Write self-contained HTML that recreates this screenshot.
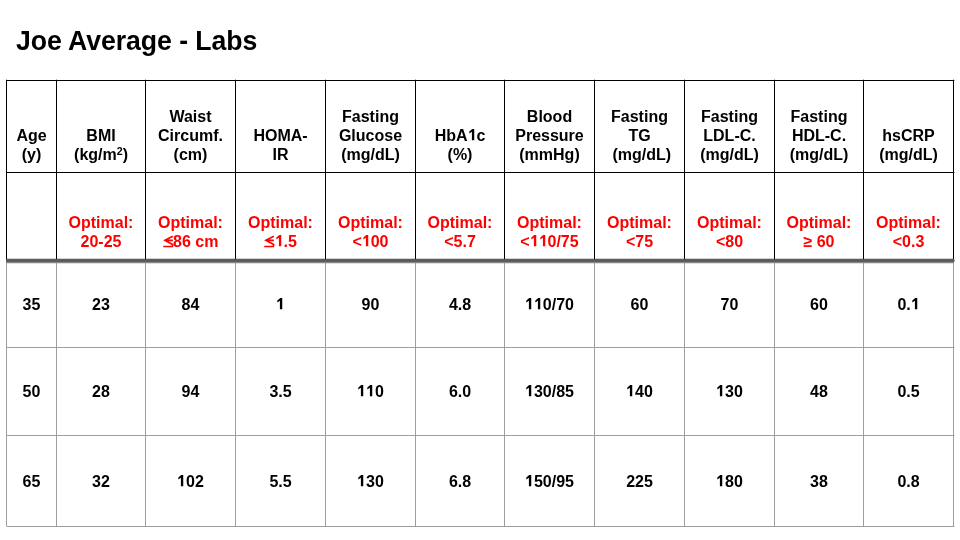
<!DOCTYPE html><html><head><meta charset="utf-8"><style>
html,body{margin:0;padding:0;background:#fff;}
body{width:960px;height:540px;position:relative;overflow:hidden;font-family:"Liberation Sans",sans-serif;font-weight:bold;}
.t{position:absolute;left:15.8px;top:27.6px;font-size:26.67px;line-height:1;white-space:nowrap;color:#000;transform:scaleY(1.055);transform-origin:0 80%;will-change:transform;letter-spacing:-0.07px;}
.l{position:absolute;}
.c{position:absolute;will-change:transform;display:flex;flex-direction:column;align-items:center;font-size:16px;line-height:19px;text-align:center;white-space:nowrap;color:#000;}
.h{justify-content:flex-end;}
.o{justify-content:flex-end;color:#f00;}
.d{justify-content:center;}

svg.one{vertical-align:0.8px;overflow:visible;}
svg.le{overflow:visible;vertical-align:baseline;}
sup{font-size:10.6px;line-height:0;position:relative;top:-5.2px;vertical-align:baseline;}
</style></head><body>
<div class="t">Joe Average - Labs</div>
<div class="c h" style="left:7px;top:81px;width:49px;height:91px;padding-bottom:8px;box-sizing:border-box"><div>Age</div><div>(y)</div></div>
<div class="c d" style="left:7px;top:262px;width:49px;height:85px;"><div>35</div></div>
<div class="c d" style="left:7px;top:348px;width:49px;height:87px;"><div>50</div></div>
<div class="c d" style="left:7px;top:437px;width:49px;height:89px;"><div>65</div></div>
<div class="c h" style="left:57px;top:81px;width:88px;height:91px;padding-bottom:8px;box-sizing:border-box"><div>BMI</div><div>(kg/m<sup>2</sup>)</div></div>
<div class="c o" style="left:57px;top:173px;width:88px;height:86px;padding-bottom:8px;box-sizing:border-box"><div>Optimal:</div><div>20-25</div></div>
<div class="c d" style="left:57px;top:262px;width:88px;height:85px;"><div>23</div></div>
<div class="c d" style="left:57px;top:348px;width:88px;height:87px;"><div>28</div></div>
<div class="c d" style="left:57px;top:437px;width:88px;height:89px;"><div>32</div></div>
<div class="c h" style="left:146px;top:81px;width:89px;height:91px;padding-bottom:8px;box-sizing:border-box"><div>Waist</div><div>Circumf.</div><div>(cm)</div></div>
<div class="c o" style="left:146px;top:173px;width:89px;height:86px;padding-bottom:8px;box-sizing:border-box"><div>Optimal:</div><div><svg class="le" width="10.6" height="12" viewBox="0 -12 10.6 12"><path d="M9.8 -10.8 L1.9 -6.7 L9.6 -2.5 L9.6 -0.5 M1.9 -6.7 H9.9 M0.2 -0.5 H9.9" fill="none" stroke="#f00" stroke-width="1.7"/></svg>86 cm</div></div>
<div class="c d" style="left:146px;top:262px;width:89px;height:85px;"><div>84</div></div>
<div class="c d" style="left:146px;top:348px;width:89px;height:87px;"><div>94</div></div>
<div class="c d" style="left:146px;top:437px;width:89px;height:89px;"><div><svg class="one" width="8.898" height="11.3" viewBox="0 -1409 1139 1409" preserveAspectRatio="none"><path d="M500 0V-1060L170 -840V-1100L540 -1409H800V0Z" fill="currentColor"/></svg>02</div></div>
<div class="c h" style="left:236px;top:81px;width:89px;height:91px;padding-bottom:8px;box-sizing:border-box"><div>HOMA-</div><div>IR</div></div>
<div class="c o" style="left:236px;top:173px;width:89px;height:86px;padding-bottom:8px;box-sizing:border-box"><div>Optimal:</div><div><svg class="le" width="10.6" height="12" viewBox="0 -12 10.6 12"><path d="M9.8 -10.8 L1.9 -6.7 L9.6 -2.5 L9.6 -0.5 M1.9 -6.7 H9.9 M0.2 -0.5 H9.9" fill="none" stroke="#f00" stroke-width="1.7"/></svg><svg class="one" width="8.898" height="11.3" viewBox="0 -1409 1139 1409" preserveAspectRatio="none"><path d="M500 0V-1060L170 -840V-1100L540 -1409H800V0Z" fill="currentColor"/></svg>.5</div></div>
<div class="c d" style="left:236px;top:262px;width:89px;height:85px;"><div><svg class="one" width="8.898" height="11.3" viewBox="0 -1409 1139 1409" preserveAspectRatio="none"><path d="M500 0V-1060L170 -840V-1100L540 -1409H800V0Z" fill="currentColor"/></svg></div></div>
<div class="c d" style="left:236px;top:348px;width:89px;height:87px;"><div>3.5</div></div>
<div class="c d" style="left:236px;top:437px;width:89px;height:89px;"><div>5.5</div></div>
<div class="c h" style="left:326px;top:81px;width:89px;height:91px;padding-bottom:8px;box-sizing:border-box"><div>Fasting</div><div>Glucose</div><div>(mg/dL)</div></div>
<div class="c o" style="left:326px;top:173px;width:89px;height:86px;padding-bottom:8px;box-sizing:border-box"><div>Optimal:</div><div>&lt;<svg class="one" width="8.898" height="11.3" viewBox="0 -1409 1139 1409" preserveAspectRatio="none"><path d="M500 0V-1060L170 -840V-1100L540 -1409H800V0Z" fill="currentColor"/></svg>00</div></div>
<div class="c d" style="left:326px;top:262px;width:89px;height:85px;"><div>90</div></div>
<div class="c d" style="left:326px;top:348px;width:89px;height:87px;"><div><svg class="one" width="8.898" height="11.3" viewBox="0 -1409 1139 1409" preserveAspectRatio="none"><path d="M500 0V-1060L170 -840V-1100L540 -1409H800V0Z" fill="currentColor"/></svg><svg class="one" width="8.898" height="11.3" viewBox="0 -1409 1139 1409" preserveAspectRatio="none"><path d="M500 0V-1060L170 -840V-1100L540 -1409H800V0Z" fill="currentColor"/></svg>0</div></div>
<div class="c d" style="left:326px;top:437px;width:89px;height:89px;"><div><svg class="one" width="8.898" height="11.3" viewBox="0 -1409 1139 1409" preserveAspectRatio="none"><path d="M500 0V-1060L170 -840V-1100L540 -1409H800V0Z" fill="currentColor"/></svg>30</div></div>
<div class="c h" style="left:416px;top:81px;width:88px;height:91px;padding-bottom:8px;box-sizing:border-box"><div>HbA<svg class="one" width="8.898" height="11.3" viewBox="0 -1409 1139 1409" preserveAspectRatio="none"><path d="M500 0V-1060L170 -840V-1100L540 -1409H800V0Z" fill="currentColor"/></svg>c</div><div>(%)</div></div>
<div class="c o" style="left:416px;top:173px;width:88px;height:86px;padding-bottom:8px;box-sizing:border-box"><div>Optimal:</div><div>&lt;5.7</div></div>
<div class="c d" style="left:416px;top:262px;width:88px;height:85px;"><div>4.8</div></div>
<div class="c d" style="left:416px;top:348px;width:88px;height:87px;"><div>6.0</div></div>
<div class="c d" style="left:416px;top:437px;width:88px;height:89px;"><div>6.8</div></div>
<div class="c h" style="left:505px;top:81px;width:89px;height:91px;padding-bottom:8px;box-sizing:border-box"><div>Blood</div><div>Pressure</div><div>(mmHg)</div></div>
<div class="c o" style="left:505px;top:173px;width:89px;height:86px;padding-bottom:8px;box-sizing:border-box"><div>Optimal:</div><div>&lt;<svg class="one" width="8.898" height="11.3" viewBox="0 -1409 1139 1409" preserveAspectRatio="none"><path d="M500 0V-1060L170 -840V-1100L540 -1409H800V0Z" fill="currentColor"/></svg><svg class="one" width="8.898" height="11.3" viewBox="0 -1409 1139 1409" preserveAspectRatio="none"><path d="M500 0V-1060L170 -840V-1100L540 -1409H800V0Z" fill="currentColor"/></svg>0/75</div></div>
<div class="c d" style="left:505px;top:262px;width:89px;height:85px;"><div><svg class="one" width="8.898" height="11.3" viewBox="0 -1409 1139 1409" preserveAspectRatio="none"><path d="M500 0V-1060L170 -840V-1100L540 -1409H800V0Z" fill="currentColor"/></svg><svg class="one" width="8.898" height="11.3" viewBox="0 -1409 1139 1409" preserveAspectRatio="none"><path d="M500 0V-1060L170 -840V-1100L540 -1409H800V0Z" fill="currentColor"/></svg>0/70</div></div>
<div class="c d" style="left:505px;top:348px;width:89px;height:87px;"><div><svg class="one" width="8.898" height="11.3" viewBox="0 -1409 1139 1409" preserveAspectRatio="none"><path d="M500 0V-1060L170 -840V-1100L540 -1409H800V0Z" fill="currentColor"/></svg>30/85</div></div>
<div class="c d" style="left:505px;top:437px;width:89px;height:89px;"><div><svg class="one" width="8.898" height="11.3" viewBox="0 -1409 1139 1409" preserveAspectRatio="none"><path d="M500 0V-1060L170 -840V-1100L540 -1409H800V0Z" fill="currentColor"/></svg>50/95</div></div>
<div class="c h" style="left:595px;top:81px;width:89px;height:91px;padding-bottom:8px;box-sizing:border-box"><div>Fasting</div><div>TG</div><div>&nbsp;(mg/dL)</div></div>
<div class="c o" style="left:595px;top:173px;width:89px;height:86px;padding-bottom:8px;box-sizing:border-box"><div>Optimal:</div><div>&lt;75</div></div>
<div class="c d" style="left:595px;top:262px;width:89px;height:85px;"><div>60</div></div>
<div class="c d" style="left:595px;top:348px;width:89px;height:87px;"><div><svg class="one" width="8.898" height="11.3" viewBox="0 -1409 1139 1409" preserveAspectRatio="none"><path d="M500 0V-1060L170 -840V-1100L540 -1409H800V0Z" fill="currentColor"/></svg>40</div></div>
<div class="c d" style="left:595px;top:437px;width:89px;height:89px;"><div>225</div></div>
<div class="c h" style="left:685px;top:81px;width:89px;height:91px;padding-bottom:8px;box-sizing:border-box"><div>Fasting</div><div>LDL-C.</div><div>(mg/dL)</div></div>
<div class="c o" style="left:685px;top:173px;width:89px;height:86px;padding-bottom:8px;box-sizing:border-box"><div>Optimal:</div><div>&lt;80</div></div>
<div class="c d" style="left:685px;top:262px;width:89px;height:85px;"><div>70</div></div>
<div class="c d" style="left:685px;top:348px;width:89px;height:87px;"><div><svg class="one" width="8.898" height="11.3" viewBox="0 -1409 1139 1409" preserveAspectRatio="none"><path d="M500 0V-1060L170 -840V-1100L540 -1409H800V0Z" fill="currentColor"/></svg>30</div></div>
<div class="c d" style="left:685px;top:437px;width:89px;height:89px;"><div><svg class="one" width="8.898" height="11.3" viewBox="0 -1409 1139 1409" preserveAspectRatio="none"><path d="M500 0V-1060L170 -840V-1100L540 -1409H800V0Z" fill="currentColor"/></svg>80</div></div>
<div class="c h" style="left:775px;top:81px;width:88px;height:91px;padding-bottom:8px;box-sizing:border-box"><div>Fasting</div><div>HDL-C.</div><div>(mg/dL)</div></div>
<div class="c o" style="left:775px;top:173px;width:88px;height:86px;padding-bottom:8px;box-sizing:border-box"><div>Optimal:</div><div>&#x2265; 60</div></div>
<div class="c d" style="left:775px;top:262px;width:88px;height:85px;"><div>60</div></div>
<div class="c d" style="left:775px;top:348px;width:88px;height:87px;"><div>48</div></div>
<div class="c d" style="left:775px;top:437px;width:88px;height:89px;"><div>38</div></div>
<div class="c h" style="left:864px;top:81px;width:89px;height:91px;padding-bottom:8px;box-sizing:border-box"><div>hsCRP</div><div>(mg/dL)</div></div>
<div class="c o" style="left:864px;top:173px;width:89px;height:86px;padding-bottom:8px;box-sizing:border-box"><div>Optimal:</div><div>&lt;0.3</div></div>
<div class="c d" style="left:864px;top:262px;width:89px;height:85px;"><div>0.<svg class="one" width="8.898" height="11.3" viewBox="0 -1409 1139 1409" preserveAspectRatio="none"><path d="M500 0V-1060L170 -840V-1100L540 -1409H800V0Z" fill="currentColor"/></svg></div></div>
<div class="c d" style="left:864px;top:348px;width:89px;height:87px;"><div>0.5</div></div>
<div class="c d" style="left:864px;top:437px;width:89px;height:89px;"><div>0.8</div></div>
<div class="l" style="left:6px;top:80px;width:948px;height:1px;background:#000"></div>
<div class="l" style="left:6px;top:172px;width:948px;height:1px;background:#000"></div>
<div class="l" style="left:6px;top:347px;width:948px;height:1px;background:#9e9e9e"></div>
<div class="l" style="left:6px;top:435px;width:948px;height:1px;background:#9e9e9e"></div>
<div class="l" style="left:6px;top:526px;width:948px;height:1px;background:#9e9e9e"></div>
<div class="l" style="left:6px;top:258px;width:948px;height:6px;background:linear-gradient(#d4d4d4 0 1px,#5c5c5c 1px 4px,#8a8a8a 4px 5px,#e0e0e0 5px 6px)"></div>
<div class="l" style="left:6px;top:80px;width:1px;height:179px;background:#000"></div>
<div class="l" style="left:6px;top:263px;width:1px;height:264px;background:#9e9e9e"></div>
<div class="l" style="left:56px;top:80px;width:1px;height:179px;background:#000"></div>
<div class="l" style="left:56px;top:263px;width:1px;height:264px;background:#9e9e9e"></div>
<div class="l" style="left:145px;top:80px;width:1px;height:179px;background:#000"></div>
<div class="l" style="left:145px;top:263px;width:1px;height:264px;background:#9e9e9e"></div>
<div class="l" style="left:235px;top:80px;width:1px;height:179px;background:#000"></div>
<div class="l" style="left:235px;top:263px;width:1px;height:264px;background:#9e9e9e"></div>
<div class="l" style="left:325px;top:80px;width:1px;height:179px;background:#000"></div>
<div class="l" style="left:325px;top:263px;width:1px;height:264px;background:#9e9e9e"></div>
<div class="l" style="left:415px;top:80px;width:1px;height:179px;background:#000"></div>
<div class="l" style="left:415px;top:263px;width:1px;height:264px;background:#9e9e9e"></div>
<div class="l" style="left:504px;top:80px;width:1px;height:179px;background:#000"></div>
<div class="l" style="left:504px;top:263px;width:1px;height:264px;background:#9e9e9e"></div>
<div class="l" style="left:594px;top:80px;width:1px;height:179px;background:#000"></div>
<div class="l" style="left:594px;top:263px;width:1px;height:264px;background:#9e9e9e"></div>
<div class="l" style="left:684px;top:80px;width:1px;height:179px;background:#000"></div>
<div class="l" style="left:684px;top:263px;width:1px;height:264px;background:#9e9e9e"></div>
<div class="l" style="left:774px;top:80px;width:1px;height:179px;background:#000"></div>
<div class="l" style="left:774px;top:263px;width:1px;height:264px;background:#9e9e9e"></div>
<div class="l" style="left:863px;top:80px;width:1px;height:179px;background:#000"></div>
<div class="l" style="left:863px;top:263px;width:1px;height:264px;background:#9e9e9e"></div>
<div class="l" style="left:953px;top:80px;width:1px;height:179px;background:#000"></div>
<div class="l" style="left:953px;top:263px;width:1px;height:264px;background:#9e9e9e"></div>
<div class="l" style="left:6px;top:79px;width:1px;height:1px;background:rgba(0,0,0,0.3)"></div>
<div class="l" style="left:56px;top:79px;width:1px;height:1px;background:rgba(0,0,0,0.3)"></div>
<div class="l" style="left:145px;top:79px;width:1px;height:1px;background:rgba(0,0,0,0.3)"></div>
<div class="l" style="left:235px;top:79px;width:1px;height:1px;background:rgba(0,0,0,0.3)"></div>
<div class="l" style="left:325px;top:79px;width:1px;height:1px;background:rgba(0,0,0,0.3)"></div>
<div class="l" style="left:415px;top:79px;width:1px;height:1px;background:rgba(0,0,0,0.3)"></div>
<div class="l" style="left:504px;top:79px;width:1px;height:1px;background:rgba(0,0,0,0.3)"></div>
<div class="l" style="left:594px;top:79px;width:1px;height:1px;background:rgba(0,0,0,0.3)"></div>
<div class="l" style="left:684px;top:79px;width:1px;height:1px;background:rgba(0,0,0,0.3)"></div>
<div class="l" style="left:774px;top:79px;width:1px;height:1px;background:rgba(0,0,0,0.3)"></div>
<div class="l" style="left:863px;top:79px;width:1px;height:1px;background:rgba(0,0,0,0.3)"></div>
<div class="l" style="left:953px;top:79px;width:1px;height:1px;background:rgba(0,0,0,0.3)"></div>
<div class="l" style="left:954px;top:80px;width:1px;height:1px;background:rgba(0,0,0,0.35)"></div>
<div class="l" style="left:954px;top:172px;width:1px;height:1px;background:rgba(0,0,0,0.35)"></div>
<div class="l" style="left:954px;top:259px;width:1px;height:1px;background:rgba(92,92,92,0.25)"></div>
<div class="l" style="left:954px;top:260px;width:1px;height:1px;background:rgba(40,40,40,0.5)"></div>
<div class="l" style="left:954px;top:261px;width:1px;height:1px;background:rgba(92,92,92,0.25)"></div>
<div class="l" style="left:954px;top:347px;width:1px;height:1px;background:rgba(158,158,158,0.4)"></div>
<div class="l" style="left:954px;top:435px;width:1px;height:1px;background:rgba(158,158,158,0.4)"></div>
<div class="l" style="left:954px;top:526px;width:1px;height:1px;background:rgba(158,158,158,0.4)"></div>
<div class="l" style="left:6px;top:526px;width:1px;height:1px;background:#d0d0d0"></div>
</body></html>
